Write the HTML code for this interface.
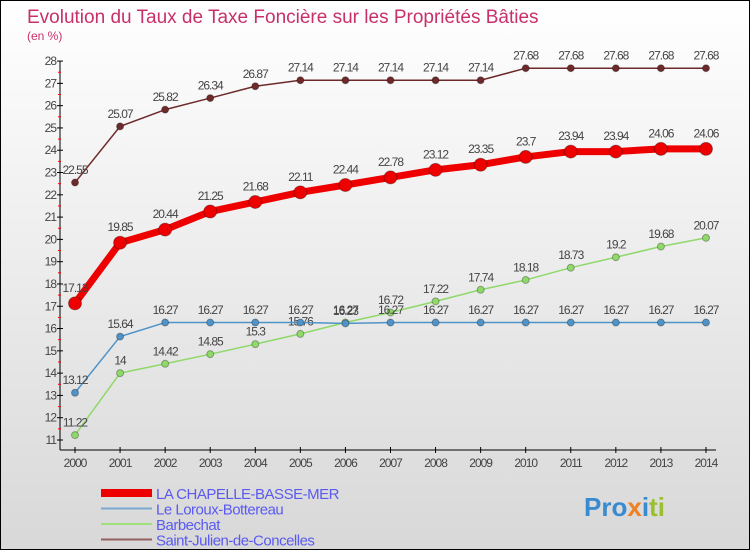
<!DOCTYPE html>
<html><head><meta charset="utf-8"><style>
body{margin:0}
#c{width:748px;height:548px;border:1px solid #000;background:linear-gradient(#ffffff,#d8d8d8);position:relative;overflow:hidden;font-family:"Liberation Sans",sans-serif}
</style></head><body>
<div id="c">
<svg id="s" width="748" height="548"></svg>
</div>
<script>
const years=[2000,2001,2002,2003,2004,2005,2006,2007,2008,2009,2010,2011,2012,2013,2014];
const chapelle=[17.13,19.85,20.44,21.25,21.68,22.11,22.44,22.78,23.12,23.35,23.7,23.94,23.94,24.06,24.06];
const loroux=[13.12,15.64,16.27,16.27,16.27,16.27,16.23,16.27,16.27,16.27,16.27,16.27,16.27,16.27,16.27];
const barbechat=[11.22,14,14.42,14.85,15.3,15.76,16.27,16.72,17.22,17.74,18.18,18.73,19.2,19.68,20.07];
const stjulien=[22.55,25.07,25.82,26.34,26.87,27.14,27.14,27.14,27.14,27.14,27.68,27.68,27.68,27.68,27.68];
const yTicks=[11,12,13,14,15,16,17,18,19,20,21,22,23,24,25,26,27,28];
const NS="http://www.w3.org/2000/svg";
const s=document.getElementById('s');
const X=i=>74+i*45.07, Y=v=>439-(v-11)*22.29;
function mk(t,a,p){const e=document.createElementNS(NS,t);for(const k in a)e.setAttribute(k,a[k]);(p||s).appendChild(e);return e;}
let e;
e=mk('text',{x:26,y:22,'font-size':19,fill:'#c8306a'});e.textContent='Evolution du Taux de Taxe Foncière sur les Propriétés Bâties';


e=mk('text',{x:26,y:39,'font-size':12,fill:'#c8306a'});e.textContent='(en %)';


e=mk('line',{x1:59,y1:60,x2:59,y2:449,stroke:'#000'});


e=mk('line',{x1:59,y1:449,x2:715,y2:449,stroke:'#000'});


yTicks.forEach(v=>{
 mk('line',{x1:56,y1:Y(v),x2:62,y2:Y(v),stroke:'#000'});
 if(v<28)mk('line',{x1:57,y1:Y(v+0.5),x2:60,y2:Y(v+0.5),stroke:'#f00'});
 e=mk('text',{x:55,y:Y(v)+4,'font-size':12,fill:'#444','text-anchor':'end','letter-spacing':'-1'});e.textContent=v;
 
 
});
years.forEach((y,i)=>{
 mk('line',{x1:X(i),y1:446,x2:X(i),y2:452,stroke:'#000'});
 e=mk('text',{x:X(i),y:466,'font-size':12,fill:'#444','text-anchor':'middle','letter-spacing':'-1'});e.textContent=y;
 
 
});
function series(d,col,w,r,name){
 const g=mk('g',{});
 
 
 mk('polyline',{points:d.map((v,i)=>X(i)+','+Y(v)).join(' '),fill:'none',stroke:col,'stroke-width':w,'stroke-linejoin':'round'},g);
 d.forEach((v,i)=>{
  const c=mk('circle',{cx:X(i),cy:Y(v),r:r,fill:col,stroke:'rgba(0,0,0,0.3)'},g);
  
  
  const t=mk('text',{x:X(i),y:Y(v)-r-5,'font-size':12,fill:'#444','text-anchor':'middle','letter-spacing':'-1'},g);t.textContent=v;
  
  
 });
}
series(barbechat,'#8fd86a',1.5,3.5,'series-barbechat');
series(loroux,'#4f93c8',1.5,3.5,'series-loroux');
series(stjulien,'#6e2a2a',1.5,3.5,'series-st-julien');
series(chapelle,'#ee0000',7,6.5,'series-chapelle');
const legend=[['LA CHAPELLE-BASSE-MER','#ee0000',8],['Le Loroux-Bottereau','#7aa8d0',2],['Barbechat','#9fe07a',2],['Saint-Julien-de-Concelles','#946060',2]];
legend.forEach((l,i)=>{
 const y=492+i*15.5;
 e=mk('line',{x1:100,y1:y,x2:151,y2:y,stroke:l[1],'stroke-width':l[2]});
 
 
 e=mk('text',{x:155,y:y+6,'font-size':15,fill:'#5a5af0','letter-spacing':'-0.5'});e.textContent=l[0];
 
 
});
e=mk('text',{x:583,y:515,'font-size':26,'font-weight':'bold',fill:'#f0a020'});
e.innerHTML='<tspan fill="#3a8ad0">Pro</tspan><tspan fill="#f08020">x</tspan><tspan fill="#3a8ad0">i</tspan><tspan fill="#9ac030">ti</tspan>';


</script>
</body></html>
